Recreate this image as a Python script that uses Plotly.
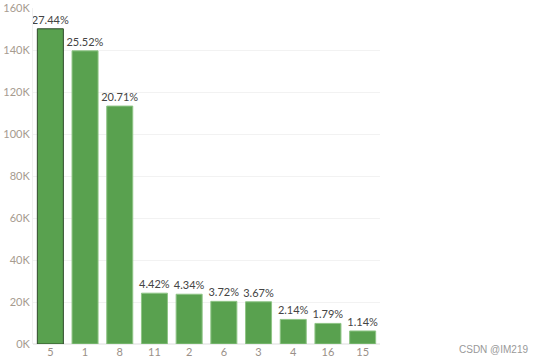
import plotly.graph_objects as go

categories = ["5", "1", "8", "11", "2", "6", "3", "4", "16", "15"]
values = [150100, 139600, 113300, 24200, 23700, 20300, 20100, 11700, 9800, 6200]
pct_labels = ["27.44%", "25.52%", "20.71%", "4.42%", "4.34%", "3.72%", "3.67%", "2.14%", "1.79%", "1.14%"]
y_tick_vals = [0, 20000, 40000, 60000, 80000, 100000, 120000, 140000, 160000]
y_tick_text = ["0K", "20K", "40K", "60K", "80K", "100K", "120K", "140K", "160K"]

line_colors = ["#2f4a2b"] + ["#8fc586"] * (len(categories) - 1)

fig = go.Figure(go.Bar(
    x=categories,
    y=values,
    text=pct_labels,
    textposition="outside",
    constraintext="none",
    cliponaxis=False,
    textfont=dict(family="Lato, Open Sans, sans-serif", size=11, color="#444444"),
    marker=dict(color="#59a14f", line=dict(color=line_colors, width=1)),
))

fig.update_layout(
    width=547, height=362,
    margin=dict(l=33, r=167, t=8, b=18, autoexpand=False),
    paper_bgcolor="white", plot_bgcolor="white",
    bargap=0.25,
    showlegend=False,
    font=dict(family="Lato, Open Sans, sans-serif"),
    xaxis=dict(
        type="category",
        automargin=False,
        showgrid=False, zeroline=False,
        showline=False,
        ticks="", ticklen=0,
        tickfont=dict(size=11, color="#9a9088"),
    ),
    yaxis=dict(
        range=[0, 160000],
        automargin=False,
        tickvals=y_tick_vals, ticktext=y_tick_text,
        showgrid=True, gridcolor="#f2f2f2", gridwidth=1,
        zeroline=True, zerolinecolor="#eeeeee",
        showline=True, linecolor="#f0f0f0",
        ticks="", ticklen=0,
        tickfont=dict(size=11, color="#a69b8f"),
    ),
    annotations=[dict(
        text="CSDN @IM219", xref="paper", yref="paper",
        x=1.0, y=0, xshift=150, yshift=-5, xanchor="right", yanchor="middle",
        showarrow=False,
        font=dict(family="Liberation Sans, Arial, sans-serif", size=10, color="#999999"),
    )],
)

fig.write_html(
    "out.html",
    config={"displayModeBar": False},
    post_script="document.body.style.margin='0';document.body.style.padding='0';",
)
